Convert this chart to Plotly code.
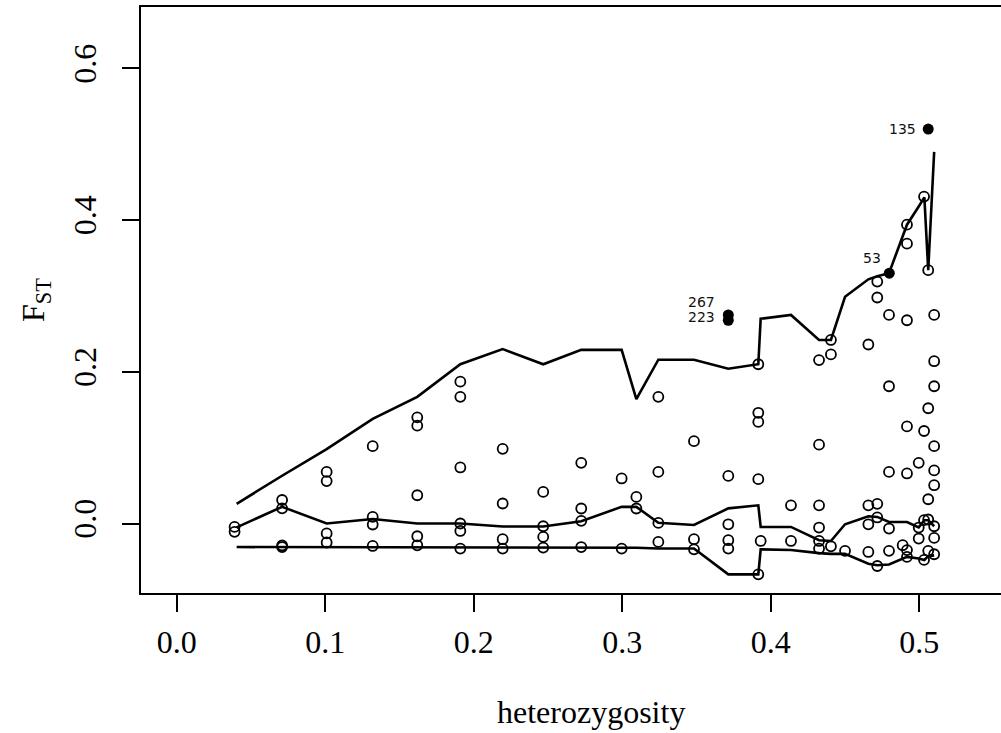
import plotly.graph_objects as go

# ---------------- data ----------------
# open circles: heterozygosity (x) and FST (y)
het = [
    0.039, 0.039,
    0.071, 0.071, 0.071, 0.071,
    0.101, 0.101, 0.101, 0.101,
    0.132, 0.132, 0.132, 0.132,
    0.162, 0.162, 0.162, 0.162, 0.162,
    0.191, 0.191, 0.191, 0.191, 0.191, 0.191,
    0.2195, 0.2195, 0.2195, 0.2195,
    0.2468, 0.2468, 0.2468, 0.2468,
    0.2724, 0.2724, 0.2724, 0.2724,
    0.2996, 0.2996,
    0.3095, 0.3095,
    0.3243, 0.3243, 0.3243, 0.3243,
    0.3483, 0.3483, 0.3483,
    0.3714, 0.3714, 0.3714, 0.3714,
    0.3916, 0.3916, 0.3916, 0.3916, 0.3916,
    0.3932,
    0.4136, 0.4136,
    0.4325, 0.4325, 0.4325, 0.4325, 0.4325, 0.4325,
    0.4405, 0.4405, 0.4405,
    0.450,
    0.4657, 0.4657, 0.4657, 0.4657,
    0.4717, 0.4717, 0.4717, 0.4717, 0.4717,
    0.4796, 0.4796, 0.4796, 0.4796, 0.4796,
    0.4888,
    0.4917, 0.4917, 0.4917, 0.4917, 0.4917, 0.4917, 0.4917,
    0.4996, 0.4996, 0.4996,
    0.5032, 0.5032, 0.5032, 0.5032,
    0.506, 0.506, 0.506, 0.506, 0.506,
    0.510, 0.510, 0.510, 0.510, 0.510, 0.510, 0.510, 0.510, 0.510,
]
fst = [
    -0.0045, -0.011,
    0.031, 0.020, -0.029, -0.031,
    0.068, 0.056, -0.013, -0.025,
    0.102, 0.0087, -0.0013, -0.0296,
    0.140, 0.129, 0.0373, -0.0168, -0.0287,
    0.187, 0.167, 0.0739, 0.0, -0.0098, -0.033,
    0.0985, 0.0264, -0.0207, -0.033,
    0.0417, -0.0036, -0.0177, -0.0317,
    0.080, 0.0198, 0.0035, -0.031,
    0.0594, -0.033,
    0.0351, 0.0198,
    0.167, 0.068, 0.0008, -0.0243,
    0.1086, -0.0207, -0.034,
    0.0628, -0.001, -0.022, -0.033,
    0.210, 0.146, 0.134, 0.0585, -0.067,
    -0.023,
    0.024, -0.023,
    0.2155, 0.104, 0.024, -0.0053, -0.023, -0.033,
    0.242, 0.223, -0.030,
    -0.036,
    0.236, 0.024, -0.001, -0.0375,
    0.319, 0.298, 0.026, 0.008, -0.056,
    0.275, 0.181, 0.068, -0.0066, -0.036,
    -0.0286,
    0.394, 0.369, 0.268, 0.128, 0.066, -0.035, -0.044,
    0.080, -0.0053, -0.0198,
    0.431, 0.122, 0.0044, -0.048,
    0.334, 0.152, 0.032, 0.0053, -0.036,
    0.275, 0.214, 0.181, 0.102, 0.070, 0.0505, -0.0036, -0.019, -0.0405,
]

# outlier loci (filled circles)
out_het = [0.3714, 0.3714, 0.4798, 0.506]
out_fst = [0.275, 0.268, 0.330, 0.520]
out_labels = ["267", "223", "53", "135"]

# quantile envelope lines
line_het = [0.0404, 0.071, 0.101, 0.132, 0.162, 0.191, 0.2195, 0.2468, 0.2724,
            0.2996, 0.3095, 0.3243, 0.3483, 0.3714, 0.3916, 0.3932, 0.4136,
            0.4325, 0.4405, 0.450, 0.4657, 0.4717, 0.4796, 0.4917, 0.4996,
            0.5034, 0.506, 0.510]
upper_q = [0.026, 0.063, 0.098, 0.138, 0.167, 0.210, 0.230, 0.210, 0.229,
           0.229, 0.164, 0.216, 0.216, 0.204, 0.210, 0.270, 0.275,
           0.242, 0.242, 0.299, 0.322, 0.326, 0.330, 0.394, 0.418,
           0.430, 0.334, 0.490]
median_q = [-0.005, 0.022, 0.0, 0.006, 0.0, 0.0, -0.004, -0.004, 0.003,
            0.022, 0.022, 0.001, -0.002, 0.020, 0.024, -0.0045, -0.0045,
            -0.022, -0.023, -0.001, 0.0096, 0.0087, 0.002, 0.002, -0.005,
            0.0044, 0.0044, -0.0036]
lower_q = [-0.031, -0.031, -0.031, -0.031, -0.031, -0.031, -0.032, -0.032, -0.032,
           -0.032, -0.032, -0.033, -0.033, -0.067, -0.067, -0.034, -0.035,
           -0.039, -0.040, -0.040, -0.053, -0.055, -0.054, -0.044, -0.046,
           -0.048, -0.043, -0.042]

x_ticks = [0.0, 0.1, 0.2, 0.3, 0.4, 0.5]
x_tick_labels = ["0.0", "0.1", "0.2", "0.3", "0.4", "0.5"]
y_ticks = [0.0, 0.2, 0.4, 0.6]
y_tick_labels = ["0.0", "0.2", "0.4", "0.6"]

# ---------------- style ----------------
SERIF = "Liberation Serif"
label_offsets = {"267": (-11, 13), "223": (-11, 3), "53": (-6, 15), "135": (-10, 0)}

fig = go.Figure()
for q in (upper_q, median_q, lower_q):
    fig.add_trace(go.Scatter(x=line_het, y=q, mode="lines",
                             line=dict(color="black", width=2.6),
                             hoverinfo="skip"))
fig.add_trace(go.Scatter(x=het, y=fst, mode="markers",
                         marker=dict(symbol="circle-open", size=10, color="black",
                                     line=dict(width=1.8, color="black"))))
fig.add_trace(go.Scatter(x=out_het, y=out_fst, mode="markers",
                         marker=dict(symbol="circle", size=11, color="black")))

for hx, fy, lab in zip(out_het, out_fst, out_labels):
    dx, dy = label_offsets[lab]
    fig.add_annotation(x=hx, y=fy, text=lab, showarrow=False,
                       xanchor="right", yanchor="middle", xshift=dx, yshift=dy,
                       font=dict(family="DejaVu Sans", size=14, color="#111"))

fig.add_annotation(x=0.523, y=-0.203, xref="paper", yref="paper",
                   text="heterozygosity", showarrow=False,
                   xanchor="center", yanchor="middle",
                   font=dict(family=SERIF, size=32, color="black"))
fig.add_annotation(x=-0.1233, y=0.5, xref="paper", yref="paper",
                   text="F<sub>ST</sub>", showarrow=False, textangle=-90,
                   xanchor="center", yanchor="middle",
                   font=dict(family=SERIF, size=32, color="black"))

fig.update_xaxes(range=[-0.024, 0.555], tickvals=x_ticks, ticktext=x_tick_labels,
                 ticks="outside", ticklen=17, tickwidth=1.5, tickcolor="black",
                 showline=True, linewidth=2, linecolor="black", mirror=True,
                 showgrid=False, zeroline=False, ticklabelstandoff=3,
                 tickfont=dict(family=SERIF, size=32, color="black"))
fig.update_yaxes(range=[-0.0916, 0.681], tickvals=y_ticks, ticktext=y_tick_labels,
                 ticks="outside", ticklen=17, tickwidth=1.5, tickcolor="black",
                 showline=True, linewidth=2, linecolor="black", mirror=False,
                 showgrid=False, zeroline=False, tickangle=-90, ticklabelstandoff=13,
                 tickfont=dict(family=SERIF, size=32, color="black"))
fig.update_layout(width=1001, height=733, margin=dict(l=141, r=0, t=7, b=140),
                  plot_bgcolor="white", paper_bgcolor="white", showlegend=False)

fig.write_html("out.html")
